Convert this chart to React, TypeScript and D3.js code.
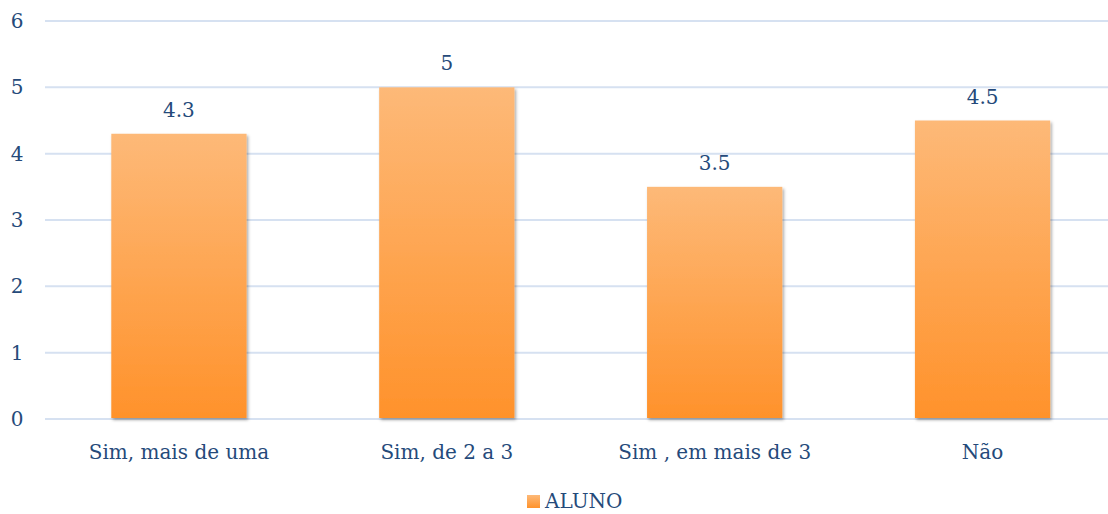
import React from "react";
import * as d3 from "d3";

const categories = ["Sim, mais de uma", "Sim, de 2 a 3", "Sim , em mais de 3", "Não"];
const values = [4.3, 5, 3.5, 4.5];
const yTicks = [0, 1, 2, 3, 4, 5, 6];
const seriesName = "ALUNO";

const W = 1108;
const H = 514;
const FONT = "'DejaVu Serif', serif";
const TEXT = "#254a7a";
const FS = 20;

export default function App() {
  const x = d3.scaleBand<string>().domain(categories).range([45, 1116.5]).paddingInner(0.495).paddingOuter(0.2475);
  const y = d3.scaleLinear().domain([0, 6]).range([419, 21]);
  return (
    <svg width={W} height={H} style={{ position: "absolute", left: 0, top: 0, background: "#fff" }}>
      <defs>
        <linearGradient id="barGrad" x1="0" y1="0" x2="0" y2="1">
          <stop offset="0%" stopColor="#fdb978" />
          <stop offset="100%" stopColor="#ff922b" />
        </linearGradient>
        <filter id="shadow" x="-10%" y="-10%" width="130%" height="130%">
          <feDropShadow dx="1.5" dy="2" stdDeviation="1.8" floodColor="#000" floodOpacity="0.35" />
        </filter>
      </defs>
      {yTicks.map((t) => (
        <g key={t}>
          <line x1={45} x2={W} y1={y(t)} y2={y(t)} stroke="#d6e1f1" strokeWidth={2} />
          <text x={17} y={y(t) + 7} textAnchor="middle" fontFamily={FONT} fontSize={FS} fill={TEXT}>
            {t}
          </text>
        </g>
      ))}
      {categories.map((c, i) => (
        <g key={c}>
          <rect
            x={x(c)}
            y={y(values[i])}
            width={x.bandwidth()}
            height={y(0) - y(values[i]) - 1}
            fill="url(#barGrad)"
            filter="url(#shadow)"
          />
          <text
            x={(x(c) as number) + x.bandwidth() / 2}
            y={y(values[i]) - 17}
            textAnchor="middle"
            fontFamily={FONT}
            fontSize={FS}
            fill={TEXT}
          >
            {values[i]}
          </text>
          <text
            x={(x(c) as number) + x.bandwidth() / 2}
            y={459}
            textAnchor="middle"
            fontFamily={FONT}
            fontSize={FS}
            fill={TEXT}
          >
            {c}
          </text>
        </g>
      ))}
      <rect x={527} y={495} width={13} height={13} fill="url(#barGrad)" />
      <text x={545} y={508} fontFamily={FONT} fontSize={FS} fill={TEXT}>
        {seriesName}
      </text>
    </svg>
  );
}
